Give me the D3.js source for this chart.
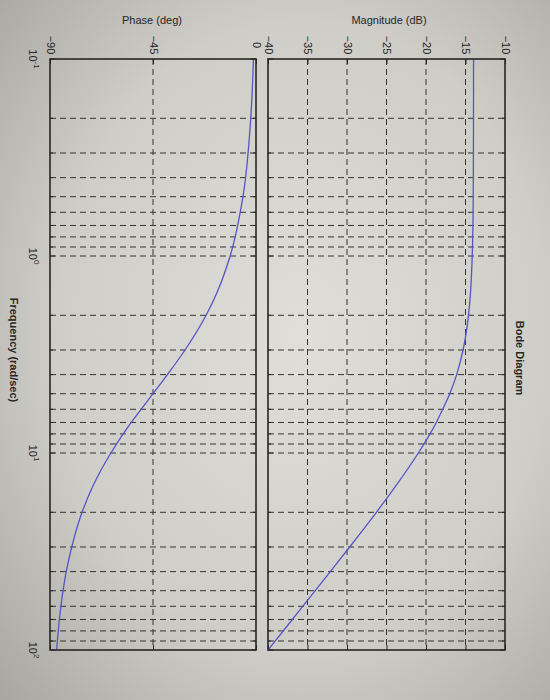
<!DOCTYPE html>
<html><head><meta charset="utf-8">
<script src="https://cdn.jsdelivr.net/npm/d3@7"></script>
<style>body{margin:0;background:#c8c6c1}svg{display:block}</style>
</head><body>
<script>
// ---- data ----
const freq     = [0.1, 0.2, 0.5, 1, 1.5, 2, 3, 4, 5, 6, 7, 8, 10, 15, 20, 30, 40, 50, 70, 100];
const magDb    = [-13.98, -13.99, -14.02, -14.15, -14.35, -14.62, -15.31, -16.12, -16.99, -17.89, -18.69, -19.49, -20.97, -23.98, -26.28, -29.66, -32.11, -34.02, -36.92, -40.0];
const phaseDeg = [-1.1, -2.3, -5.7, -11.3, -16.7, -21.8, -31.0, -38.7, -45.0, -50.2, -54.5, -58.0, -63.4, -71.6, -76.0, -80.5, -82.9, -84.3, -85.9, -87.1];
const magTicks   = [-40, -35, -30, -25, -20, -15, -10];
const phaseTicks = [-90, -45, 0];
const freqDecades = [0.1, 1, 10, 100];
const freqExp     = ["-1", "0", "1", "2"];

const W = 550, H = 700;
const svg = d3.select("body").append("svg").attr("width", W).attr("height", H);

// photo-like paper background
const defs = svg.append("defs");
const rg = defs.append("radialGradient").attr("id","bg").attr("cx","55%").attr("cy","48%").attr("r","75%");
rg.append("stop").attr("offset","0%").attr("stop-color","#e0ded9");
rg.append("stop").attr("offset","60%").attr("stop-color","#cfcdc8");
rg.append("stop").attr("offset","100%").attr("stop-color","#a9a7a2");
svg.append("rect").attr("width",W).attr("height",H).attr("fill","url(#bg)");

const plotTop = 59, plotBottom = 650;
const fy = d3.scaleLog().domain([0.1, 100]).range([plotTop, plotBottom]);
const px = d3.scaleLinear().domain([-90, 0]).range([50, 256]);
const mx = d3.scaleLinear().domain([-40, -10]).range([268, 505]);

// minor frequency grid values
const minor = [];
[0.1, 1, 10].forEach(d => { for (let k = 1; k <= 9; k++) minor.push(+(d*k).toPrecision(3)); });
minor.push(100);

const ink = "#262626";
const font = "'Liberation Sans', Arial, sans-serif";

function panel(xs, ticks, vals, id) {
  const g = svg.append("g");
  const [x0, x1] = xs.range();
  g.append("clipPath").attr("id", id).append("rect")
    .attr("x", x0).attr("y", plotTop).attr("width", x1 - x0).attr("height", plotBottom - plotTop);
  g.selectAll(".hg").data(minor.filter(v => v > 0.1 && v < 100)).enter().append("line")
    .attr("x1", x0).attr("x2", x1).attr("y1", d => fy(d)).attr("y2", d => fy(d))
    .attr("stroke", "#333").attr("stroke-width", 1).attr("stroke-dasharray", "6,4");
  g.selectAll(".vg").data(ticks.slice(1, -1)).enter().append("line")
    .attr("x1", d => xs(d)).attr("x2", d => xs(d)).attr("y1", plotTop).attr("y2", plotBottom)
    .attr("stroke", "#333").attr("stroke-width", 1).attr("stroke-dasharray", "6,4");
  minor.forEach(v => {
    const len = freqDecades.includes(v) ? 5 : 3;
    g.append("line").attr("x1", x0).attr("x2", x0 + len).attr("y1", fy(v)).attr("y2", fy(v)).attr("stroke", ink);
    g.append("line").attr("x1", x1).attr("x2", x1 - len).attr("y1", fy(v)).attr("y2", fy(v)).attr("stroke", ink);
  });
  const ax = g.append("g").attr("transform", `translate(0,${plotTop})`)
    .call(d3.axisTop(xs).tickValues(ticks).tickSize(-5).tickFormat(d3.format("d")));
  ax.select(".domain").remove();
  ax.selectAll("line").attr("stroke", ink);
  ax.selectAll("text").attr("y", null).attr("dy", null)
    .attr("transform", "translate(0,-14) rotate(90)")
    .attr("text-anchor", "middle").attr("dominant-baseline", "central")
    .attr("fill", ink).style("font-family", font).style("font-size", "11px");
  const bx = g.append("g").attr("transform", `translate(0,${plotBottom})`)
    .call(d3.axisBottom(xs).tickValues(ticks).tickSize(-5).tickFormat(""));
  bx.select(".domain").remove();
  bx.selectAll("line").attr("stroke", ink);
  const line = d3.line().x(d => xs(d[1])).y(d => fy(d[0])).curve(d3.curveMonotoneY);
  g.append("path").datum(freq.map((f, i) => [f, vals[i]]))
    .attr("d", line).attr("fill", "none").attr("stroke", "#5555c8").attr("stroke-width", 1.3)
    .attr("clip-path", `url(#${id})`);
  g.append("rect").attr("x", x0).attr("y", plotTop).attr("width", x1 - x0).attr("height", plotBottom - plotTop)
    .attr("fill", "none").attr("stroke", ink).attr("stroke-width", 1.6);
}

panel(px, phaseTicks, phaseDeg, "cp");
panel(mx, magTicks, magDb, "cm");

// frequency decade labels (left)
const fl = svg.append("g").attr("transform", "translate(50,0)")
  .call(d3.axisLeft(fy).tickValues(freqDecades).tickSize(0).tickFormat(""));
fl.select(".domain").remove();
freqDecades.forEach((d, i) => {
  const t = svg.append("text").attr("transform", `translate(33,${fy(d)}) rotate(90)`)
    .attr("text-anchor", "middle").attr("dominant-baseline", "central")
    .attr("fill", ink).style("font-family", font).style("font-size", "11px");
  t.append("tspan").text("10");
  t.append("tspan").attr("dy", "-0.5em").style("font-size", "8px").text(freqExp[i]);
});

svg.append("text").attr("x", 152).attr("y", 24).attr("text-anchor", "middle")
  .attr("fill", ink).style("font-family", font).style("font-size", "11px").text("Phase (deg)");
svg.append("text").attr("x", 389).attr("y", 24).attr("text-anchor", "middle")
  .attr("fill", ink).style("font-family", font).style("font-size", "11px").text("Magnitude (dB)");
svg.append("text").attr("transform", "translate(520,358) rotate(90)")
  .attr("text-anchor", "middle").attr("dominant-baseline", "central")
  .attr("fill", ink).style("font-family", font).style("font-size", "11px").style("font-weight", "bold").text("Bode Diagram");
svg.append("text").attr("transform", "translate(14,350) rotate(90)")
  .attr("text-anchor", "middle").attr("dominant-baseline", "central")
  .attr("fill", ink).style("font-family", font).style("font-size", "11px").style("font-weight", "bold").text("Frequency (rad/sec)");
</script>
</body></html>
